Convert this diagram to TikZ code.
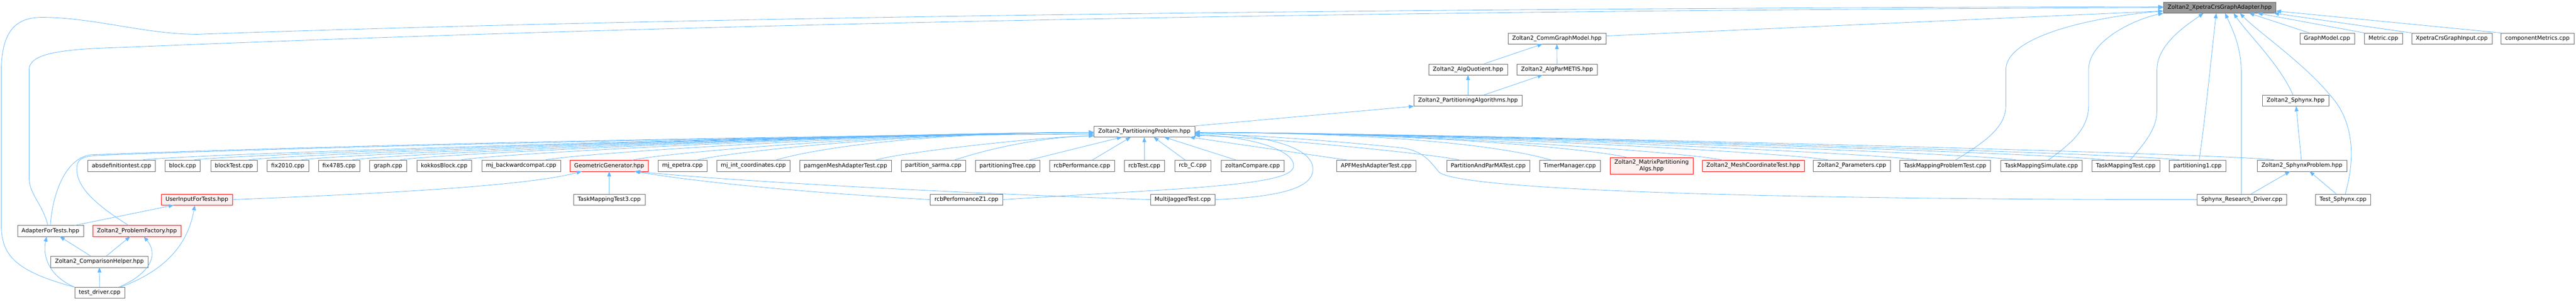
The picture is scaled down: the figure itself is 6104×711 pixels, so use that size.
\documentclass[tikz,border=0pt]{standalone}
\usepackage{fontspec}
\setmainfont{DejaVu Sans}
\usetikzlibrary{arrows.meta,positioning,calc}
\definecolor{incl}{HTML}{63B8FF}
\definecolor{frame}{HTML}{666666}
\definecolor{mainfill}{HTML}{999999}
\definecolor{truncfill}{HTML}{FFF0F0}
\tikzset{
  file/.style  = { draw=frame, fill=white, inner xsep=10pt, inner ysep=3pt,
    minimum height=26pt, align=center, font=\fontsize{13.33}{16}\selectfont },
  hdr/.style   = { file, fill=mainfill },% the header itself
  trunc/.style = { file, draw=red, fill=truncfill },% graph truncated here
  dep/.style   = { color=incl, line width=1pt, -{Triangle[length=12pt,width=9pt]} }
}
\begin{document}
\begin{tikzpicture}[x=1pt,y=-1pt]
    \useasboundingbox (0,0) rectangle (6104,711);
    % who includes Zoltan2_XpetraCrsGraphAdapter.hpp
    \node[hdr] (xcga) at (5259.5,18) {Zoltan2\_XpetraCrsGraphAdapter.hpp};
    \node[file] (cgm) at (3689,91) {Zoltan2\_CommGraphModel.hpp};
    \node[file] (gm) at (5514,91) {GraphModel.cpp};
    \node[file] (metric) at (5647.5,91) {Metric.cpp};
    \node[file] (xcgi) at (5809.5,91) {XpetraCrsGraphInput.cpp};
    \node[file] (cm) at (6012.5,91) {componentMetrics.cpp};
    \node[file] (aq) at (3478.5,164) {Zoltan2\_AlgQuotient.hpp};
    \node[file] (apm) at (3689.5,164) {Zoltan2\_AlgParMETIS.hpp};
    \node[file] (pa) at (3478.5,238) {Zoltan2\_PartitioningAlgorithms.hpp};
    \node[file] (sphynx) at (5439.5,238) {Zoltan2\_Sphynx.hpp};
    \node[file] (pp) at (2711.5,311) {Zoltan2\_PartitioningProblem.hpp};

    \node[file] (absdef) at (288,392) {absdefinitiontest.cpp};
    \node[file] (block) at (432.5,392) {block.cpp};
    \node[file] (blocktest) at (554,392) {blockTest.cpp};
    \node[file] (fixa) at (682,392) {fix2010.cpp};
    \node[file] (fixb) at (803.5,392) {fix4785.cpp};
    \node[file] (graph) at (919.5,392) {graph.cpp};
    \node[file] (kokkos) at (1052.5,392) {kokkosBlock.cpp};
    \node[file] (mjback) at (1235,392) {mj\_backwardcompat.cpp};
    \node[trunc] (gg) at (1443.5,392) {GeometricGenerator.hpp};
    \node[file] (mjepetra) at (1617,392) {mj\_epetra.cpp};
    \node[file] (mjint) at (1785,392) {mj\_int\_coordinates.cpp};
    \node[file] (pamgen) at (2003.5,392) {pamgenMeshAdapterTest.cpp};
    \node[file] (sarma) at (2211.5,392) {partition\_sarma.cpp};
    \node[file] (ptree) at (2387.5,392) {partitioningTree.cpp};
    \node[file] (rcbperf) at (2563.5,392) {rcbPerformance.cpp};
    \node[file] (rcbtest) at (2711.5,392) {rcbTest.cpp};
    \node[file] (rcbc) at (2826,392) {rcb\_C.cpp};
    \node[file] (zcomp) at (2968,392) {zoltanCompare.cpp};
    \node[file] (apf) at (3261,392) {APFMeshAdapterTest.cpp};
    \node[file] (parma) at (3526.5,392) {PartitionAndParMATest.cpp};
    \node[file] (timer) at (3719.5,392) {TimerManager.cpp};
    \node[trunc, inner ysep=5pt] (matpart) at (3913.5,392) {Zoltan2\_MatrixPartitioning\\Algs.hpp};
    \node[trunc] (meshco) at (4154.5,392) {Zoltan2\_MeshCoordinateTest.hpp};
    \node[file] (params) at (4388,392) {Zoltan2\_Parameters.cpp};
    \node[file] (tmpt) at (4609,392) {TaskMappingProblemTest.cpp};
    \node[file] (tms) at (4837,392) {TaskMappingSimulate.cpp};
    \node[file] (tmt) at (5037,392) {TaskMappingTest.cpp};
    \node[file] (pone) at (5207,392) {partitioning1.cpp};
    \node[file] (sphprob) at (5454.5,392) {Zoltan2\_SphynxProblem.hpp};

    \node[trunc] (ui) at (466.5,472) {UserInputForTests.hpp};
    \node[file] (tmt3) at (1443.5,472) {TaskMappingTest3.cpp};
    \node[file] (rz1) at (2290,472) {rcbPerformanceZ1.cpp};
    \node[file] (mjt) at (2802.5,472) {MultiJaggedTest.cpp};
    \node[file] (srd) at (5312,472) {Sphynx\_Research\_Driver.cpp};
    \node[file] (ts) at (5552,472) {Test\_Sphynx.cpp};
    \node[file] (aft) at (119.5,546) {AdapterForTests.hpp};
    \node[trunc] (pf) at (324.5,546) {Zoltan2\_ProblemFactory.hpp};
    \node[file] (ch) at (235.5,619) {Zoltan2\_ComparisonHelper.hpp};
    \node[file] (td) at (236,692) {test\_driver.cpp};

    % into the partitioning problem
    \foreach \n in {absdef,block,blocktest,fixa,fixb,graph,kokkos,mjback,gg,mjepetra,mjint}
      \draw[dep] ($(\n.north)!.6!(\n.north east)$) .. controls +(45,-14) and +(-500,2) .. ([yshift=-2pt]pp.west);
    \foreach \n in {pamgen,sarma}
      \draw[dep] ($(\n.north)!.65!(\n.north east)$) .. controls +(45,-16) and +(-150,4) .. ([yshift=-10pt]pp.west);
    \path[dep] ([xshift=50pt]ptree.north) edge ([xshift=-53pt]pp.south)
               ([xshift=24pt]rcbperf.north) edge ([xshift=-32pt]pp.south)
               (rcbtest) edge (pp)
               ([xshift=-17pt]rcbc.north) edge ([xshift=22pt]pp.south)
               ([xshift=-38pt]zcomp.north) edge ([xshift=47pt]pp.south)
               ([xshift=-67pt]apf.north) edge ([xshift=-12pt]pp.south east);
    \draw[dep] ([xshift=-67pt]parma.north) .. controls +(-60,-15) and +(150,4) .. ([yshift=-9pt]pp.east);
    \foreach \n in {timer,matpart,meshco,params,tmpt,tms,tmt,pone,sphprob}
      \draw[dep] ($(\n.north)!.6!(\n.north west)$) .. controls +(-45,-14) and +(600,2) .. ([yshift=-2pt]pp.east);
    \draw[dep] (aft.north) .. controls (123,470) and (150,375) .. (215,366)
        .. controls (900,340) and (2000,318) .. ([yshift=-6pt]pp.west);
    \draw[dep] ([xshift=-20pt]pf.north) .. controls (220,480) and (182,440) .. (182,400)
        .. controls (182,375) and (195,369) .. (240,367) .. controls (900,342) and (2000,320) .. ([yshift=-6pt]pp.west);
    \draw[dep] (rz1.east) .. controls (2800,445) and (3055,440) .. (3065,395)
        .. controls (3072,355) and (2960,322) .. ([yshift=-8pt]pp.east);
    \draw[dep] (mjt.east) .. controls (3050,465) and (3111,440) .. (3111,400)
        .. controls (3111,345) and (2990,318) .. ([yshift=-3pt]pp.east);
    \draw[dep] (srd.west) .. controls (4200,472) and (3470,450) .. (3411,408)
        .. controls (3390,385) and (3375,355) .. (3316,349) .. controls (3150,332) and (2950,318) .. ([yshift=-5pt]pp.east);

    % test driver side
    \path[dep] (td) edge (ch)
               ([xshift=-20pt]ch.north) edge ([xshift=22pt]aft.south)
               ([xshift=16pt]ch.north) edge ([xshift=-16pt]pf.south)
               ([xshift=58pt]aft.north) edge ([xshift=-55pt]ui.south)
               (tmt3) edge (gg);
    \draw[dep] (td.north west) .. controls (120,655) and (100,610) .. ([xshift=-9pt]aft.south);
    \draw[dep] ([xshift=46pt]td.north) .. controls (360,645) and (375,600) .. ([xshift=16pt]pf.south);
    \draw[dep] ([xshift=50pt]td.north) .. controls (390,640) and (445,580) .. ([xshift=-5pt]ui.south);
    \draw[dep] (ui.east) .. controls (900,458) and (1250,440) .. ([xshift=-65pt]gg.south);
    \draw[dep] (rz1.west) .. controls (1900,455) and (1650,430) .. ([xshift=60pt]gg.south);
    \draw[dep] (mjt.west) .. controls (2300,458) and (1750,430) .. ([xshift=62pt]gg.south);

    % the algorithm headers
    \path[dep] (pp.north east) edge (pa.south west)
               (pa) edge (aq)
               ([xshift=37pt]pa.north) edge ([xshift=-34pt]apm.south)
               ([xshift=38pt]aq.north) edge ([xshift=-34pt]cgm.south)
               (apm) edge (cgm)
               ([yshift=6pt]cgm.east) edge ([yshift=-8pt]xcga.west)
               (sphprob) edge (sphynx)
               ([xshift=22pt]srd.north) edge ([xshift=-28pt]sphprob.south)
               ([xshift=-16pt]ts.north) edge ([xshift=18pt]sphprob.south);

    % straight into the adapter
    \draw[dep] (td.north west) .. controls (30,640) and (3,600) .. (3,530) -- (3,170)
        .. controls (3,70) and (40,41) .. (100,41) .. controls (220,41) and (350,82) .. (469,81)
        .. controls (1500,45) and (3000,20) .. ([yshift=2pt]xcga.west);
    \draw[dep] ([xshift=-6pt]aft.north) .. controls (100,480) and (69,460) .. (69,420) -- (69,165)
        .. controls (69,125) and (150,116) .. (290,112) .. controls (1500,62) and (3000,26) .. (xcga.west);
    \draw[dep] ([xshift=24pt]tmpt.north) .. controls (4705,335) and (4753,300) .. (4753,250) -- (4753,165)
        .. controls (4753,85) and (4960,40) .. ([yshift=-8pt]xcga.west);
    \draw[dep] ([xshift=16pt]tms.north) .. controls (4915,335) and (4949,300) .. (4949,250) -- (4949,165)
        .. controls (4949,95) and (5060,45) .. (xcga.south west);
    \draw[dep] ([xshift=10pt]tmt.north) .. controls (5090,330) and (5111,300) .. (5111,260) -- (5111,165)
        .. controls (5111,105) and (5180,60) .. ([xshift=-38pt]xcga.south);
    \draw[dep] ([xshift=4pt]pone.north) .. controls (5228,260) and (5240,130) .. ([xshift=-8pt]xcga.south);
    \draw[dep] ([xshift=-1pt]srd.north) -- (5311,175) .. controls (5311,110) and (5290,70) .. ([xshift=13pt]xcga.south);
    \draw[dep] ([xshift=-6pt]sphynx.north) .. controls (5400,150) and (5330,85) .. ([xshift=33pt]xcga.south);
    \draw[dep] ([xshift=5pt]ts.north) .. controls (5580,380) and (5580,290) .. (5523,227)
        .. controls (5460,150) and (5350,75) .. ([xshift=48pt]xcga.south);
    \path[dep] ([xshift=-42pt]gm.north) edge ([xshift=70pt]xcga.south)
               (metric.north west) edge ([xshift=90pt]xcga.south)
               (xcgi.north west) edge ([xshift=-5pt]xcga.south east)
               (cm.north west) edge ([yshift=-8pt]xcga.east);
\end{tikzpicture}
\end{document}
